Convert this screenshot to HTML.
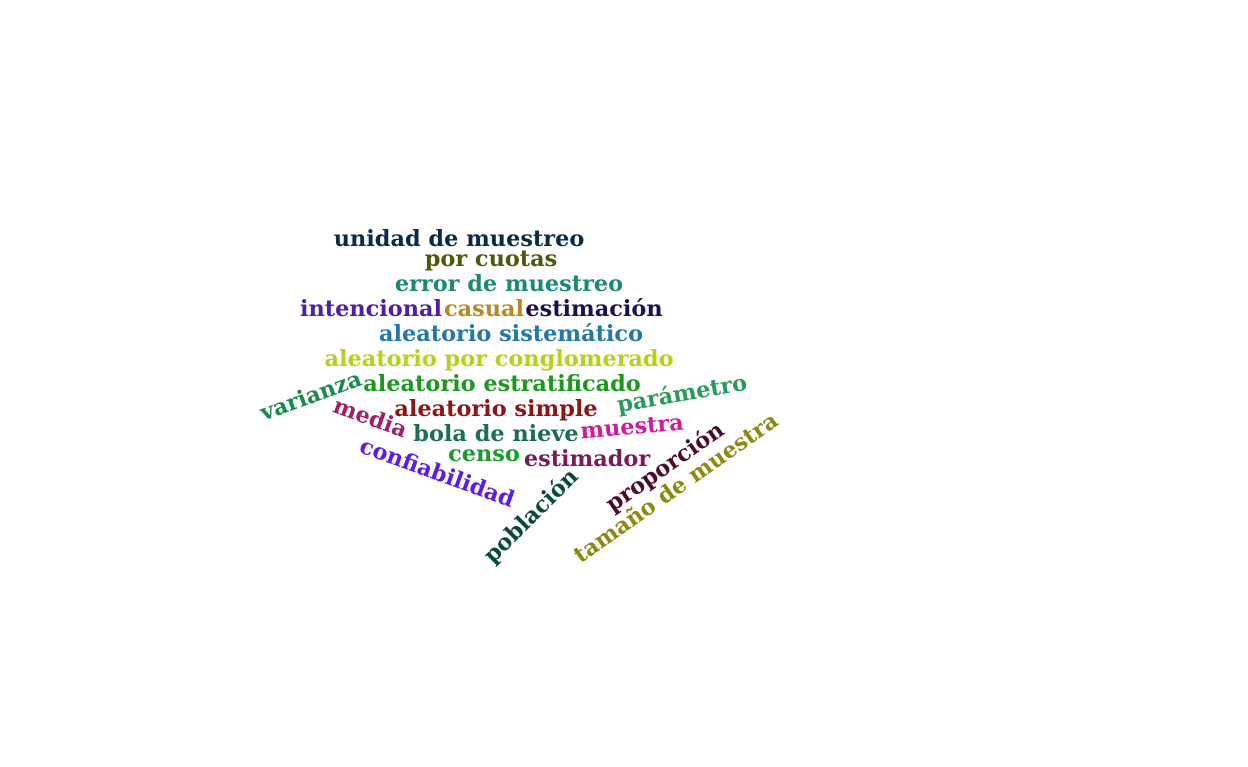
<!DOCTYPE html>
<html><head><meta charset="utf-8"><style>
html,body{margin:0;padding:0;background:#fff;width:1248px;height:767px;overflow:hidden}
svg text{font-family:"DejaVu Serif","Liberation Serif",serif;font-weight:bold;font-size:22.4px}
</style></head><body>
<svg id="cloud" width="1248" height="767" xmlns="http://www.w3.org/2000/svg"></svg>
<script>
const words=["unidad de muestreo","por cuotas","error de muestreo","intencional","casual","estimación","aleatorio sistemático","aleatorio por conglomerado","aleatorio estratificado","varianza","parámetro","media","aleatorio simple","bola de nieve","muestra","censo","estimador","confiabilidad","población","proporción","tamaño de muestra"];
const cx=[459,491,509,371,484,594,511,499,502,311,682,370,496,496,632,484,587,437,531,665,676];
const cy=[239,259,284,309,309,309,334,359,384,396,394,418,409,434,427,454,459,473,516,467,488];
const angles=[0,0,0,0,0,0,0,0,0,-20,-10,20,0,0,-5,0,0,20,-45,-35,-35];
const colors=["#0b2a45","#4a5a0a","#1a8a70","#4b1fa8","#b58a25","#1a1050","#2378a8","#b5d11a","#1a9a1a","#1a8a4a","#2a9a5a","#a01e6a","#8a1515","#1a7050","#d01a9a","#1a9a2a","#7a1a5a","#5a1af0","#0a4a3a","#4a0a2a","#8a8a10"];
const svg=document.getElementById('cloud');
words.forEach((w,i)=>{
  const t=document.createElementNS('http://www.w3.org/2000/svg','text');
  
  
  t.setAttribute('x',cx[i]);
  t.setAttribute('y',cy[i]);
  t.setAttribute('text-anchor','middle');
  t.setAttribute('dominant-baseline','central');
  t.setAttribute('fill',colors[i]);
  t.setAttribute('transform','rotate('+angles[i]+' '+cx[i]+' '+cy[i]+')');
  t.textContent=w;
  svg.appendChild(t);
});
</script>
</body></html>
